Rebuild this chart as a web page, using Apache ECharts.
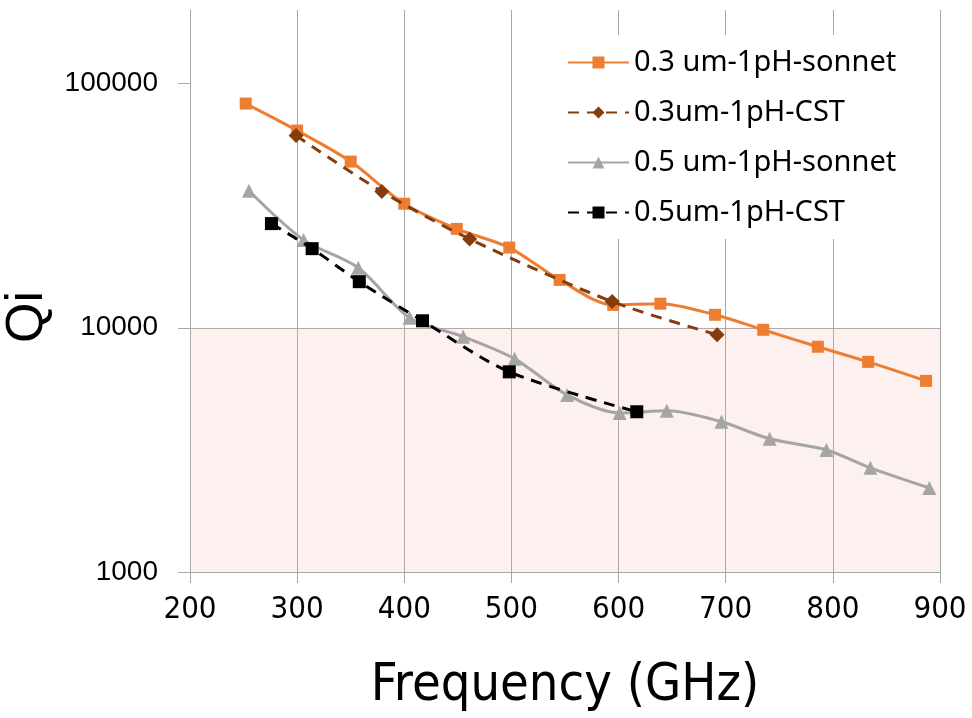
<!DOCTYPE html>
<html>
<head>
<meta charset="utf-8">
<script src="https://cdn.jsdelivr.net/npm/echarts@6/dist/echarts.min.js"></script>
<style>
html,body{margin:0;padding:0;background:#fff;}
#chart{width:972px;height:718px;}
</style>
</head>
<body>
<div id="chart"></div>
<script>
// Frequencies (GHz) and Qi values
var freqSonnet03 = [252, 300, 350, 400, 449, 498, 545, 595, 639, 690, 735, 786, 833, 887];
var qiSonnet03   = [82800, 64200, 47900, 32200, 25400, 21300, 15700, 12400, 12550, 11300, 9810, 8360, 7250, 6060];

var freqCst03 = [299, 379, 461, 594, 692];
var qiCst03   = [61200, 36100, 23100, 12800, 9360];

var freqSonnet05 = [255, 306, 357, 405, 455, 503, 552, 601, 645, 696, 741, 794, 835, 890];
var qiSonnet05   = [36400, 22900, 17600, 11000, 9190, 7460, 5310, 4480, 4570, 4120, 3510, 3160, 2670, 2210];

var freqCst05 = [276, 314, 358, 417, 498, 617];
var qiCst05   = [26700, 21080, 15440, 10680, 6600, 4530];

var seriesNames = ['0.3 um-1pH-sonnet', '0.3um-1pH-CST', '0.5 um-1pH-sonnet', '0.5um-1pH-CST'];
var yTickValues = [1000, 10000, 100000];
var shadedBand = [1000, 10000];

function zip(xs, ys) { return xs.map(function (x, i) { return [x, ys[i]]; }); }

var chart = echarts.init(document.getElementById('chart'));
var gridColor = '#a6a6a6';
var narrowFont = 'Liberation Sans Narrow, DejaVu Sans Condensed, sans-serif';
chart.setOption({
  animation: false,
  backgroundColor: '#fff',
  grid: { left: 190, right: 32, top: 10, bottom: 146, containLabel: false, outerBoundsMode: 'none' },
  legend: {
    orient: 'vertical',
    left: 532, top: 35,
    padding: [13, 34, 12, 35],
    itemWidth: 61, itemHeight: 15, itemGap: 21,
    backgroundColor: '#fff',
    z: 10,
    textStyle: { fontFamily: 'Noto Sans', fontSize: 29, color: '#000' },
    data: seriesNames
  },
  xAxis: {
    type: 'value', min: 200, max: 900, interval: 100,
    name: 'Frequency (GHz)', nameLocation: 'middle', nameGap: 88,
    nameTextStyle: { fontFamily: narrowFont, fontSize: 52, color: '#000' },
    axisLine: { show: true, lineStyle: { color: gridColor, width: 1 } },
    axisTick: { show: true, length: 11, lineStyle: { color: gridColor } },
    axisLabel: { margin: 22, fontFamily: narrowFont, fontSize: 31, color: '#000' },
    splitLine: { show: true, lineStyle: { color: gridColor, width: 1 } }
  },
  yAxis: {
    type: 'log', logBase: 10, min: 1000, max: 200000,
    name: 'Qi', nameLocation: 'middle', nameRotate: 90, nameGap: 126,
    nameTextStyle: { fontFamily: 'Liberation Sans, sans-serif', fontSize: 52, color: '#000', padding: [0, 52, 0, 0] },
    axisLine: { show: true, lineStyle: { color: gridColor, width: 1 } },
    axisTick: { show: true, length: 12, customValues: yTickValues, lineStyle: { color: gridColor } },
    axisLabel: {
      margin: 32, fontFamily: 'Liberation Sans, sans-serif', fontSize: 28, color: '#000',
      customValues: yTickValues, showMaxLabel: true,
      formatter: function (v) { return String(Math.round(v)); }
    },
    splitLine: { show: true, showMaxLine: false, lineStyle: { color: gridColor, width: 1 } }
  },
  series: [
    {
      name: seriesNames[0], type: 'line', data: zip(freqSonnet03, qiSonnet03),
      smooth: 0.3, symbol: 'rect', symbolSize: 12, z: 5,
      itemStyle: { color: '#ED7D31' },
      lineStyle: { color: '#ED7D31', width: 3 },
      markArea: {
        silent: true,
        itemStyle: { color: 'rgba(245,185,175,0.2)' },
        data: [[{ yAxis: shadedBand[0], xAxis: 200 }, { yAxis: shadedBand[1], xAxis: 900 }]]
      }
    },
    {
      name: seriesNames[1], type: 'line', data: zip(freqCst03, qiCst03),
      smooth: 0.3, symbol: 'diamond', symbolSize: 15, z: 6,
      itemStyle: { color: '#843C0C' },
      lineStyle: { color: '#843C0C', width: 3, type: [11, 8] }
    },
    {
      name: seriesNames[2], type: 'line', data: zip(freqSonnet05, qiSonnet05),
      smooth: 0.3, symbol: 'triangle', symbolSize: 14, z: 5,
      itemStyle: { color: '#A5A5A5' },
      lineStyle: { color: '#A5A5A5', width: 3 }
    },
    {
      name: seriesNames[3], type: 'line', data: zip(freqCst05, qiCst05),
      smooth: 0.3, symbol: 'rect', symbolSize: 13, z: 6,
      itemStyle: { color: '#000000' },
      lineStyle: { color: '#000000', width: 3, type: [11, 8] }
    }
  ]
});
</script>
</body>
</html>
